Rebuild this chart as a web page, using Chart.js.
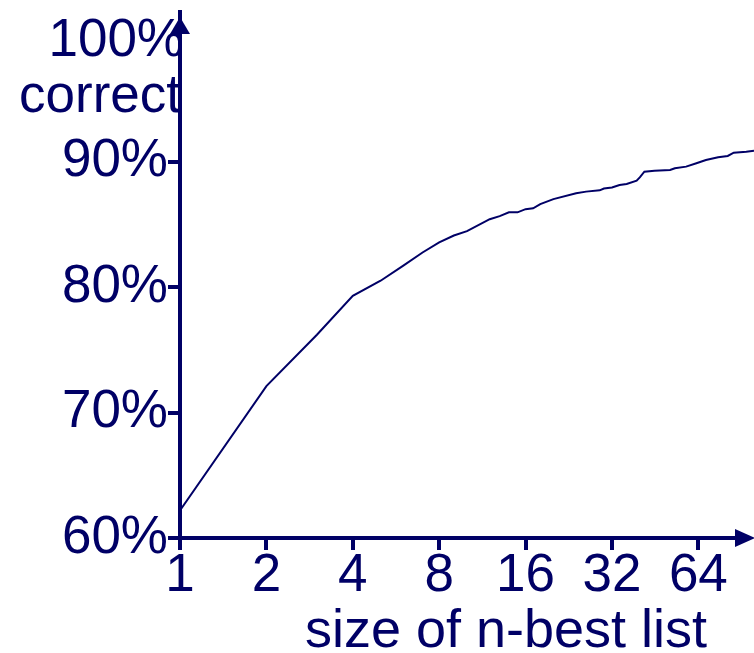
<!DOCTYPE html>
<html>
<head>
<meta charset="utf-8">
<script src="https://cdn.jsdelivr.net/npm/chart.js@4/dist/chart.umd.min.js"></script>
<style>
  html, body { margin: 0; padding: 0; background: #ffffff; }
  #wrap { width: 754px; height: 653px; }
</style>
</head>
<body>
<div id="wrap"><canvas id="c" width="754" height="653"></canvas></div>
<script>
// n-best list size (x) and percent correct (y)
const nValues = [1, 2, 3, 4, 5, 6, 7, 8, 9, 10, 12, 13, 14, 15, 16, 17, 18, 20, 24, 26, 29, 30, 32, 34, 36, 39, 40, 41.5, 45, 51, 53, 58, 63, 68, 75, 81, 85, 94, 100];
const pctCorrect = [62.2, 72.1, 76.2, 79.3, 80.5, 81.7, 82.75, 83.55, 84.1, 84.45, 85.4, 85.65, 85.95, 85.95, 86.2, 86.27, 86.6, 87.0, 87.47, 87.6, 87.7, 87.85, 87.93, 88.13, 88.21, 88.47, 88.74, 89.19, 89.27, 89.32, 89.46, 89.59, 89.86, 90.12, 90.33, 90.44, 90.7, 90.78, 90.86];
const xTicks = [1, 2, 4, 8, 16, 32, 64];
const yTicks = [60, 70, 80, 90, 100];
const xTitle = 'size of n-best list';
const yTitle = 'correct';

const NAVY = '#000066';
const FONT = '"Liberation Sans", Arial, sans-serif';

const axesPlugin = {
  id: 'axesArrows',
  afterDraw(chart) {
    const ctx = chart.ctx;
    const ys = chart.scales.y, xs = chart.scales.x;
    const xL = xs.getPixelForValue(1);
    const yB = ys.getPixelForValue(60);
    ctx.save();
    ctx.strokeStyle = NAVY;
    ctx.fillStyle = NAVY;
    ctx.lineWidth = 4;
    // y axis
    ctx.beginPath();
    ctx.moveTo(xL, yB + 2);
    ctx.lineTo(xL, 10);
    ctx.stroke();
    ctx.beginPath();
    ctx.moveTo(xL, 17);
    ctx.lineTo(xL - 10, 34);
    ctx.lineTo(xL + 10, 34);
    ctx.closePath();
    ctx.fill();
    // x axis
    ctx.beginPath();
    ctx.moveTo(xL - 2, yB);
    ctx.lineTo(745, yB);
    ctx.stroke();
    ctx.beginPath();
    ctx.moveTo(755, yB);
    ctx.lineTo(735, yB - 9);
    ctx.lineTo(735, yB + 9);
    ctx.closePath();
    ctx.fill();
    // texts
    ctx.font = '53px ' + FONT;
    ctx.textBaseline = 'alphabetic';
    ctx.textAlign = 'right';
    ctx.fillText('100%', 184, ys.getPixelForValue(100) + 20);
    ctx.fillText(yTitle, 181, 112);
    ctx.font = '54px ' + FONT;
    ctx.textAlign = 'center';
    ctx.fillText(xTitle, 506, 647);
    ctx.restore();
  }
};

new Chart(document.getElementById('c'), {
  type: 'line',
  data: {
    datasets: [{
      data: nValues.map((n, i) => ({ x: n, y: pctCorrect[i] })),
      borderColor: NAVY,
      borderWidth: 2,
      pointRadius: 0,
      tension: 0,
      fill: false
    }]
  },
  options: {
    responsive: false,
    devicePixelRatio: 1,
    animation: false,
    layout: { padding: { left: 0, right: 0, top: 36, bottom: 0 } },
    plugins: { legend: { display: false }, tooltip: { enabled: false } },
    scales: {
      x: {
        type: 'logarithmic',
        min: 1,
        max: 100,
        afterFit(scale) { scale.height = 653 - 538; },
        afterBuildTicks(scale) { scale.ticks = xTicks.map(v => ({ value: v })); },
        grid: { drawOnChartArea: false, drawTicks: true, tickLength: 12, lineWidth: 4, color: NAVY },
        border: { display: false },
        ticks: {
          autoSkip: false,
          maxRotation: 0,
          padding: 0,
          color: NAVY,
          font: { family: FONT, size: 53, lineHeight: 1 },
          callback: (v) => String(v)
        }
      },
      y: {
        type: 'linear',
        min: 60,
        max: 100,
        afterFit(scale) { scale.width = 180; },
        afterBuildTicks(scale) { scale.ticks = yTicks.map(v => ({ value: v })); },
        grid: {
          drawOnChartArea: false, drawTicks: true, tickLength: 12, lineWidth: 4,
          color: (c) => (c.tick && c.tick.value === 100) ? 'rgba(0,0,0,0)' : NAVY
        },
        border: { display: false },
        ticks: {
          padding: 0,
          color: NAVY,
          font: { family: FONT, size: 53, lineHeight: 1 },
          callback: (v) => v === 100 ? '' : v + '%'
        }
      }
    }
  },
  plugins: [axesPlugin]
});
</script>
</body>
</html>
